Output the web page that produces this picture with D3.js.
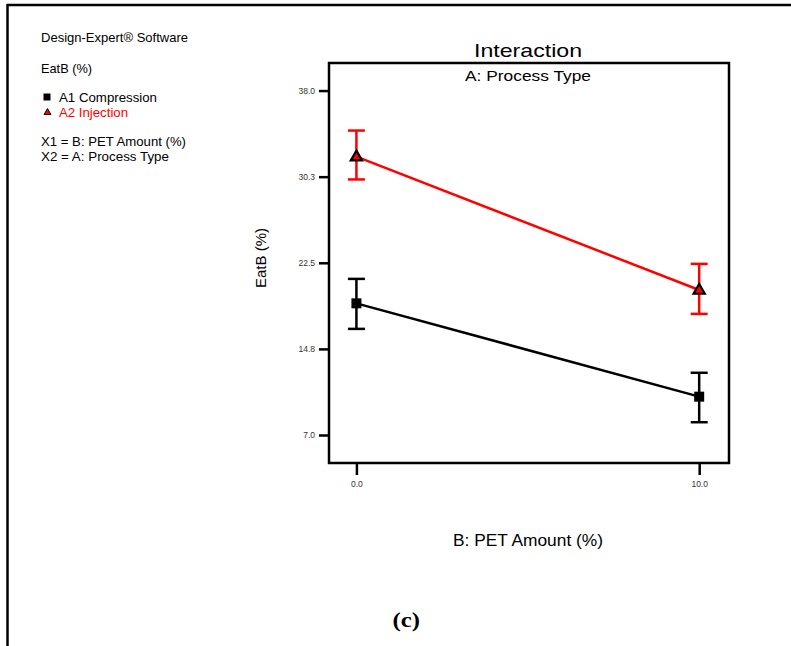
<!DOCTYPE html>
<html>
<head>
<meta charset="utf-8">
<script src="https://cdn.jsdelivr.net/npm/d3@7"></script>
<style>
html,body{margin:0;padding:0;background:#fff;}
svg{display:block;font-family:Arial, "Liberation Sans", sans-serif;}
</style>
</head>
<body>
<svg id="chart" width="791" height="646"></svg>
<script>
const xValues = [0, 10];
const xTickLabels = ["0.0", "10.0"];
const yTickValues = [7.0, 14.75, 22.5, 30.25, 38.0];
const yTickLabels = ["7.0", "14.8", "22.5", "30.3", "38.0"];
const seriesNames = ["A1 Compression", "A2 Injection"];
const seriesColors = ["#000000", "#ff0000"];
const compressionMean = [18.85, 10.45];
const compressionLow = [16.55, 8.15];
const compressionHigh = [21.05, 12.6];
const injectionMean = [32.05, 20.05];
const injectionLow = [30.0, 17.9];
const injectionHigh = [34.4, 22.4];

const svg = d3.select("#chart");

// outer frame
svg.append("line").attr("x1", 7).attr("x2", 791).attr("y1", 5).attr("y2", 5).attr("stroke", "#000").attr("stroke-width", 2.5);
svg.append("line").attr("x1", 7.5).attr("x2", 7.5).attr("y1", 4).attr("y2", 646).attr("stroke", "#000").attr("stroke-width", 2.5);

const plot = {left: 329, top: 63, right: 729, bottom: 463};
const x = d3.scaleLinear().domain([-0.8, 10.87]).range([plot.left, plot.right]);
const y = d3.scaleLinear().domain([4.48, 40.48]).range([plot.bottom, plot.top]);

function stretched(sel, len) {
  return sel.attr("textLength", len).attr("lengthAdjust", "spacingAndGlyphs");
}

// axes
const yAxis = d3.axisLeft(y).tickValues(yTickValues).tickFormat((d, i) => yTickLabels[i]).tickSize(10).tickPadding(4);
const gy = svg.append("g").attr("transform", `translate(${plot.left},0)`).call(yAxis);
gy.select(".domain").remove();
gy.selectAll(".tick line").attr("stroke-width", 2.5);
gy.selectAll(".tick text").attr("font-size", 8.5).attr("fill", "#333");

const xAxis = d3.axisBottom(x).tickValues(xValues).tickFormat((d, i) => xTickLabels[i]).tickSize(12).tickPadding(6);
const gx = svg.append("g").attr("transform", `translate(0,${plot.bottom})`).call(xAxis);
gx.select(".domain").remove();
gx.selectAll(".tick line").attr("stroke-width", 2.5);
gx.selectAll(".tick text").attr("font-size", 8.5).attr("fill", "#333");

// plot box
svg.append("rect").attr("x", plot.left).attr("y", plot.top)
  .attr("width", plot.right - plot.left).attr("height", plot.bottom - plot.top)
  .attr("fill", "none").attr("stroke", "#000").attr("stroke-width", 2.5);

const series = [
  {name: seriesNames[0], color: seriesColors[0], mean: compressionMean, low: compressionLow, high: compressionHigh, shape: "square"},
  {name: seriesNames[1], color: seriesColors[1], mean: injectionMean, low: injectionLow, high: injectionHigh, shape: "triangle"}
];

const line = d3.line().x((d, i) => x(xValues[i])).y(d => y(d));
series.forEach(s => {
  const g = svg.append("g");
  g.append("path").datum(s.mean).attr("d", line).attr("fill", "none").attr("stroke", s.color).attr("stroke-width", 2.5);
  xValues.forEach((xv, i) => {
    const cx = x(xv);
    g.append("line").attr("x1", cx).attr("x2", cx).attr("y1", y(s.low[i])).attr("y2", y(s.high[i])).attr("stroke", s.color).attr("stroke-width", 2.5);
    [s.low[i], s.high[i]].forEach(v => {
      g.append("line").attr("x1", cx - 8.5).attr("x2", cx + 8.5).attr("y1", y(v)).attr("y2", y(v)).attr("stroke", s.color).attr("stroke-width", 2.5);
    });
  });
  xValues.forEach((xv, i) => {
    const cx = x(xv), cy = y(s.mean[i]);
    if (s.shape === "square") {
      g.append("rect").attr("x", cx - 5).attr("y", cy - 5).attr("width", 10).attr("height", 10).attr("fill", "#000");
    } else {
      g.append("path").attr("d", d3.symbol(d3.symbolTriangle, 55)()).attr("transform", `translate(${cx},${cy + 0.5})`)
        .attr("fill", s.color).attr("stroke", "#000").attr("stroke-width", 2.2).attr("stroke-linejoin", "miter");
    }
  });
});

// titles
stretched(svg.append("text").attr("x", 474).attr("y", 56.5).attr("font-size", 18.5).text("Interaction"), 108);
stretched(svg.append("text").attr("x", 465).attr("y", 81).attr("font-size", 15).text("A: Process Type"), 126);
stretched(svg.append("text").attr("transform", "translate(266,288) rotate(-90)").attr("font-size", 14.5).text("EatB (%)"), 60);
stretched(svg.append("text").attr("x", 453).attr("y", 546).attr("font-size", 16).text("B: PET Amount (%)"), 150);
stretched(svg.append("text").attr("x", 392.5).attr("y", 627).attr("font-size", 20).attr("font-weight", "bold")
  .attr("font-family", "'Liberation Serif','DejaVu Serif',serif").text("(c)"), 27.5);

// legend / info block
const info = svg.append("g").attr("font-size", 13);
stretched(info.append("text").attr("x", 41).attr("y", 42).text("Design-Expert® Software"), 147);
stretched(info.append("text").attr("x", 41).attr("y", 73).text("EatB (%)"), 51);
info.append("rect").attr("x", 43.5).attr("y", 93.5).attr("width", 7).attr("height", 7).attr("fill", "#000");
stretched(info.append("text").attr("x", 59).attr("y", 102).text(seriesNames[0]), 98);
info.append("path").attr("d", d3.symbol(d3.symbolTriangle, 20)()).attr("transform", "translate(47.5,112.5)")
  .attr("fill", "#ff0000").attr("stroke", "#000").attr("stroke-width", 1);
stretched(info.append("text").attr("x", 59).attr("y", 117).attr("fill", "#ff0000").text(seriesNames[1]), 69);
stretched(info.append("text").attr("x", 41).attr("y", 146).text("X1 = B: PET Amount (%)"), 145);
stretched(info.append("text").attr("x", 41).attr("y", 161).text("X2 = A: Process Type"), 128);
</script>
</body>
</html>
